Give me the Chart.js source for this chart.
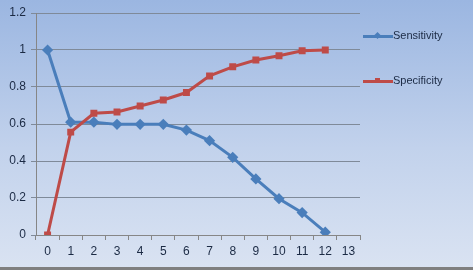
<!DOCTYPE html>
<html>
<head>
<meta charset="utf-8">
<script src="https://cdn.jsdelivr.net/npm/chart.js@4"></script>
<style>
  html, body { margin: 0; padding: 0; }
  body {
    width: 473px; height: 270px; overflow: hidden; position: relative;
    background: linear-gradient(to bottom, #9bb6e1 0%, #c2d2ec 55%, #dae3f2 100%);
    font-family: "Liberation Sans", Arial, sans-serif;
  }
  #wrap { position: absolute; left: 0; top: 0; width: 473px; height: 267px; }
  #band { position: absolute; left: 0; bottom: 0; width: 473px; height: 3px; background: #7f7f7f; }
  .leg { position: absolute; left: 363px; height: 14px; font-size: 11px; color: #1b2a44; }
  .leg .ln { position: absolute; left: 0; top: 6px; width: 30px; height: 3px; }
  .leg .mk { position: absolute; }
  .leg span { position: absolute; left: 30px; top: 0; white-space: nowrap; }
</style>
</head>
<body>
<div id="wrap"><canvas id="c" width="473" height="267"></canvas></div>
<div id="band"></div>
<div class="leg" style="top:29px">
  <div class="ln" style="background:#4a7ebb"></div>
  <div class="mk" style="left:12px;top:4px;width:5px;height:5px;background:#4a7ebb;transform:rotate(45deg)"></div>
  <span>Sensitivity</span>
</div>
<div class="leg" style="top:74px">
  <div class="ln" style="background:#be4b48"></div>
  <div class="mk" style="left:12px;top:4px;width:5px;height:5px;background:#be4b48"></div>
  <span>Specificity</span>
</div>
<script>
/* ===== data ===== */
const categories = ["0","1","2","3","4","5","6","7","8","9","10","11","12","13"];
const sensitivity = [1, 0.61, 0.61, 0.598, 0.598, 0.598, 0.567, 0.51, 0.42, 0.303, 0.196, 0.121, 0.015];
const specificity = [0, 0.556, 0.658, 0.665, 0.697, 0.73, 0.77, 0.86, 0.909, 0.946, 0.969, 0.996, 1.0];
const yTicks = [0, 0.2, 0.4, 0.6, 0.8, 1, 1.2];
const yTickLabels = ["0", "0.2", "0.4", "0.6", "0.8", "1", "1.2"];

const axisColor = "#868686";
const textColor = "#1b2a44";

new Chart(document.getElementById("c"), {
  type: "line",
  data: {
    labels: categories,
    datasets: [
      {
        label: "Sensitivity",
        data: sensitivity,
        borderColor: "#4a7ebb",
        backgroundColor: "#4a7ebb",
        borderWidth: 3,
        pointStyle: "rectRot",
        pointRadius: 3.5,
        tension: 0,
        order: 1
      },
      {
        label: "Specificity",
        data: specificity,
        borderColor: "#be4b48",
        backgroundColor: "#be4b48",
        borderWidth: 3,
        pointStyle: "rect",
        pointRadius: 2.8,
        tension: 0,
        order: 0
      }
    ]
  },
  options: {
    responsive: false,
    animation: false,
    layout: { padding: { left: 0, top: 13, right: 113, bottom: 0 } },
    plugins: { legend: { display: false }, tooltip: { enabled: false } },
    scales: {
      x: {
        offset: true,
        grid: { offset: true, drawOnChartArea: false, drawTicks: true, tickLength: 5, color: axisColor },
        border: { color: axisColor },
        ticks: { color: textColor, font: { family: "Liberation Sans", size: 12 }, padding: 4, maxRotation: 0, autoSkip: false },
        afterFit: (s) => { s.height = 32; }
      },
      y: {
        min: 0,
        max: 1.2,
        afterBuildTicks: (s) => { s.ticks = yTicks.map(v => ({ value: v })); },
        grid: { color: "#7f8a99", tickLength: 5 },
        border: { color: axisColor },
        ticks: {
          color: textColor,
          font: { family: "Liberation Sans", size: 12 },
          padding: 5,
          callback: (v, i) => yTickLabels[i]
        },
        afterFit: (s) => { s.width = 36; }
      }
    }
  }
});
</script>
</body>
</html>
